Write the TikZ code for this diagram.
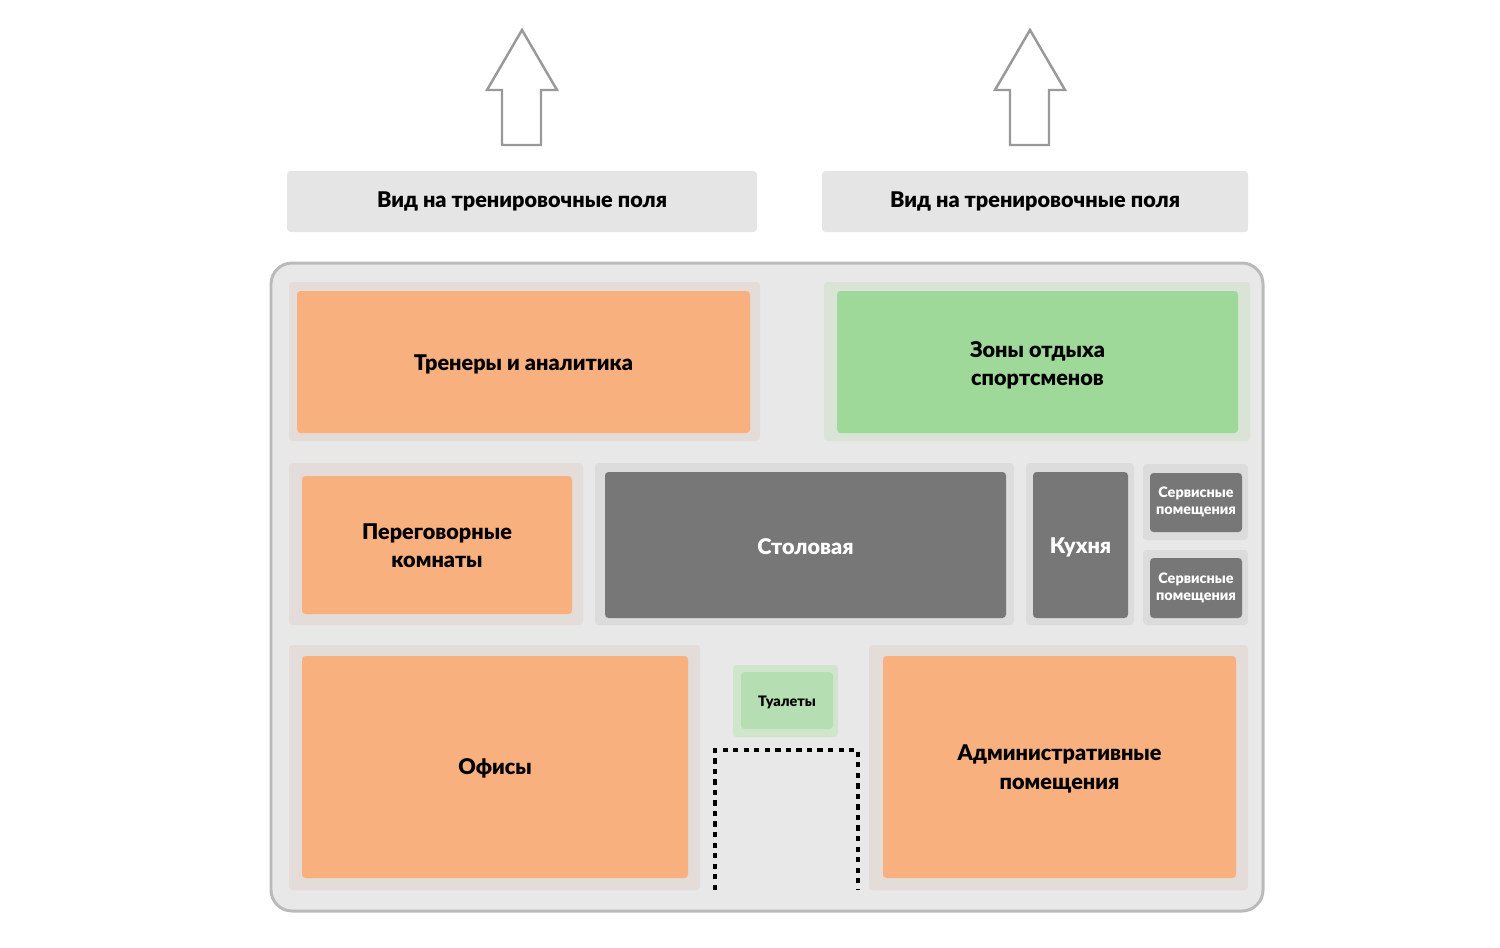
\documentclass[tikz,border=0pt]{standalone}
\usepackage{fontspec}
\setmainfont{Lato}[BoldFont={Lato Black}]
\definecolor{org}{HTML}{F9B07F}
\definecolor{orgbg}{HTML}{E3DCD8}
\definecolor{grn}{HTML}{9FD99A}
\definecolor{grnbg}{HTML}{D9E3D6}
\definecolor{dg}{HTML}{777777}
\definecolor{dgbg}{HTML}{DCDCDC}
\definecolor{tl}{HTML}{B5DFB2}
\definecolor{tlbg}{HTML}{D0E6CC}
\begin{document}
\begin{tikzpicture}[x=0.02cm,y=-0.02cm,
 bg/.style={rounded corners=2pt},
 room/.style={rounded corners=2pt,font=\bfseries\fontsize{12.3}{16}\selectfont,align=center},
 small/.style={font=\bfseries\fontsize{8.2}{10}\selectfont},
 arr/.style={draw=gray!80,line width=1.4pt,fill=white}]
\useasboundingbox (0,0) rectangle (1500,947);
% arrows
\foreach \c/\n in {522/a1,1030/a2}{
 \draw[arr] (\c,30) -- (\c+35,90) -- (\c+19,90) -- (\c+19,145) -- (\c-20,145) -- (\c-20,90) -- (\c-35,90) -- cycle;}
\node[fill=black!10,rounded corners=2pt,minimum width=470*0.02cm,minimum height=61*0.02cm,font=\bfseries\fontsize{12.3}{13}\selectfont] (v1) at (522,201.5) {Вид на тренировочные поля};
\node[fill=black!10,rounded corners=2pt,minimum width=426*0.02cm,minimum height=61*0.02cm,font=\bfseries\fontsize{12.3}{13}\selectfont] (v2) at (1035,201.5) {Вид на тренировочные поля};
% outer
\draw[draw=black!27,line width=1.7pt,fill=black!9,rounded corners=12pt] (271,263) rectangle (1263,911);
% backgrounds
\fill[orgbg,bg] (289,282) rectangle (760,441);
\fill[grnbg,bg] (824,282) rectangle (1250,441);
\fill[orgbg,bg] (289,463) rectangle (583,625);
\fill[dgbg,bg] (595,463) rectangle (1014,625);
\fill[dgbg,bg] (1026,463) rectangle (1134,625);
\fill[dgbg,bg] (1143,464) rectangle (1248,540);
\fill[dgbg,bg] (1143,550) rectangle (1248,625);
\fill[orgbg,bg] (289,645) rectangle (700,890);
\fill[tlbg,bg] (733,665) rectangle (838,737);
\fill[orgbg,bg] (869,645) rectangle (1248,890);
% rooms
\fill[org,bg] (297,291) rectangle (750,433); \node[room] (r1) at (523.5,364) {Тренеры и аналитика};
\fill[grn,bg] (837,291) rectangle (1238,433); \node[room] (r2) at (1037.5,365) {Зоны отдыха\\спортсменов};
\fill[org,bg] (302,476) rectangle (572,614); \node[room] (r3) at (437,546) {Переговорные\\комнаты};
\fill[dg,bg] (605,472) rectangle (1006,618); \node[room,text=white] (r4) at (805.5,547) {Столовая};
\fill[dg,bg] (1033,472) rectangle (1128,618); \node[room,text=white] (r5) at (1080.5,547) {Кухня};
\fill[dg,bg] (1150,473) rectangle (1242,532); \node[room,text=white,small] (r6) at (1196,502) {Сервисные\\помещения};
\fill[dg,bg] (1150,558) rectangle (1242,618); \node[room,text=white,small] (r7) at (1196,588) {Сервисные\\помещения};
\fill[org,bg] (302,656) rectangle (688,878); \node[room] (r8) at (495,768) {Офисы};
\fill[tl,bg] (741,672) rectangle (833,729); \node[room,small] (r9) at (787,702) {Туалеты};
\fill[org,bg] (883,656) rectangle (1236,878); \node[room] (r10) at (1059.5,769) {Административные\\помещения};
% entrance
\draw[line width=1.8pt,dash pattern=on 3pt off 3pt] (715,890) -- (715,750) -- (858,750) -- (858,890);
\end{tikzpicture}
\end{document}
